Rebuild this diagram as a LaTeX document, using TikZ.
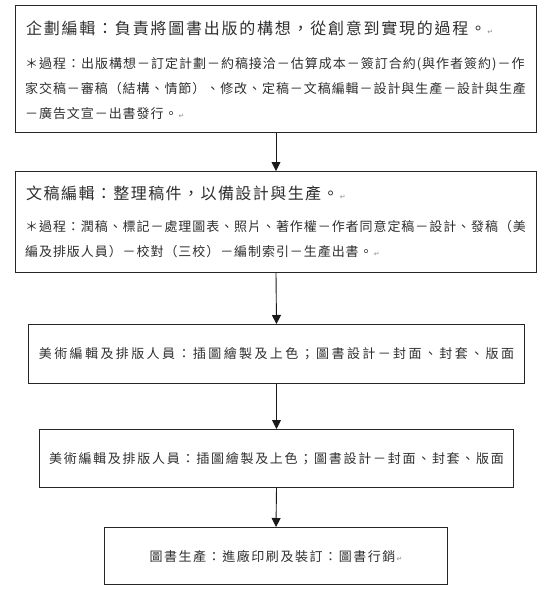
\documentclass[tikz,border=0pt]{standalone}
\usepackage{fontspec}
\setmainfont{Noto Sans CJK TC}
\newfontfamily\markfont{DejaVu Sans}
\usetikzlibrary{arrows.meta}
\newcommand{\sized}[2]{\fontsize{#1}{#1}\selectfont\addfontfeature{LetterSpace=#2}}
\newcommand{\parmark}{{\markfont\fontsize{7}{7}\selectfont\color{black!45}\,↵}}
\tikzset{
  box/.style={draw=black!85, line width=1pt, inner sep=0pt, anchor=north west},
  txt/.style={anchor=west, inner sep=0pt, text=black!82},
  ctxt/.style={anchor=center, inner sep=0pt, text=black!82},
  link/.style={draw=black!90, line width=0.9pt, -{Triangle[width=9pt,length=9pt]}},
}
\begin{document}
\begin{tikzpicture}[x=1pt,y=-1pt]
\useasboundingbox (0,0) rectangle (554,589);
% boxes
\node[box, minimum width=521pt, minimum height=127pt] (b1) at (15,5) {};
\node[box, minimum width=521pt, minimum height=101pt] (b2) at (15,171) {};
\node[box, minimum width=496pt, minimum height=59pt] (b3) at (28,324) {};
\node[box, minimum width=474pt, minimum height=58pt] (b4) at (39,429) {};
\node[box, minimum width=343pt, minimum height=57pt] (b5) at (104,527) {};
% box 1 text
\node[txt] (t1a) at (26,28) {\sized{16}{11}企劃編輯：負責將圖書出版的構想，從創意到實現的過程。\parmark};
\node[txt] (t1b) at (25,64) {\sized{13}{7.6}＊過程：出版構想－訂定計劃－約稿接洽－估算成本－簽訂合約(與作者簽約)－作};
\node[txt] (t1c) at (25,89) {\sized{13}{7.2}家交稿－審稿（結構、情節）、修改、定稿－文稿編輯－設計與生產－設計與生產};
\node[txt] (t1d) at (25,114) {\sized{13}{7.2}－廣告文宣－出書發行。\parmark};
% box 2 text
\node[txt] (t2a) at (26,193) {\sized{16}{9}文稿編輯：整理稿件，以備設計與生產。\parmark};
\node[txt] (t2b) at (25,227) {\sized{13}{7.2}＊過程：潤稿、標記－處理圖表、照片、著作權－作者同意定稿－設計、發稿（美};
\node[txt] (t2c) at (25,252) {\sized{13}{7.2}編及排版人員）－校對（三校）－編制索引－生產出書。\parmark};
% box 3-5 text
\node[ctxt] (t3) at (b3.center) {\sized{13}{18.5}美術編輯及排版人員：插圖繪製及上色；圖書設計－封面、封套、版面};
\node[ctxt] (t4) at (b4.center) {\sized{13}{13.3}美術編輯及排版人員：插圖繪製及上色；圖書設計－封面、封套、版面};
\node[ctxt] (t5) at (b5.center) {\sized{13}{12}圖書生產：進廠印刷及裝訂：圖書行銷\parmark};
% connectors
\draw[link] (b1.south) -- (b2.north);
\draw[link] (b2.south) -- (b3.north);
\draw[link] (b3.south) -- (b4.north);
\draw[link] (b4.south) -- (b5.north);
\end{tikzpicture}
\end{document}
